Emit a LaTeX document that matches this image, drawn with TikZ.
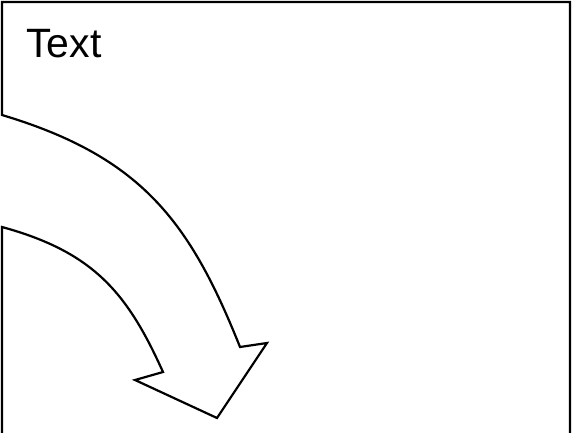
\documentclass[tikz,border=0pt]{standalone}
\usepackage{fontspec}
\setmainfont{Liberation Sans}
\begin{document}
\begin{tikzpicture}[x=1pt,y=-1pt,
  outline/.style={draw=black,line width=2.2pt,line join=miter},
  label/.style={inner sep=0pt,anchor=base west,font=\fontsize{41}{46}\selectfont}]
\useasboundingbox (0,0) rectangle (572,433);
\draw[outline]
  (2,440) -- (2,227)
  .. controls (93,252) and (127,292) .. (163,372)
  -- (135,380) -- (217,418) -- (267,343) -- (240,347)
  .. controls (190,222) and (142,157) .. (2,115)
  -- (2,2) -- (570,2) -- (570,440);
\node[label] (t) at (26,58) {Text};
\end{tikzpicture}
\end{document}
